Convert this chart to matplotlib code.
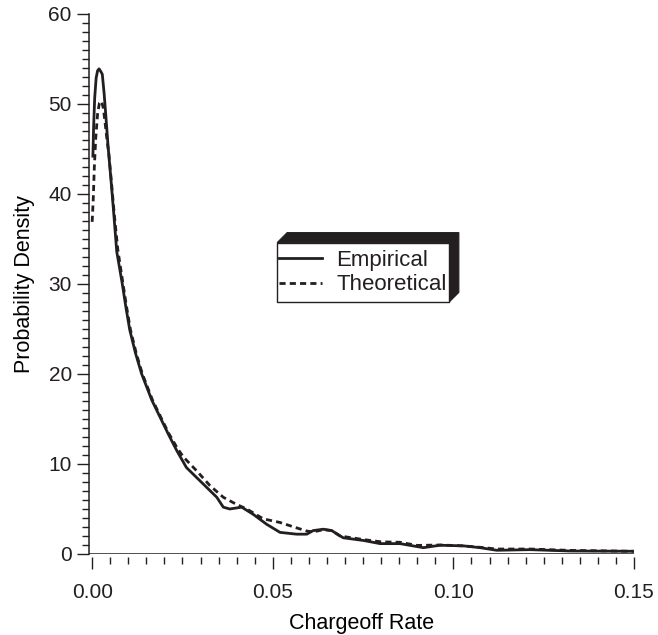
import numpy as np
from matplotlib import pyplot as plt
from matplotlib.patches import Polygon, Rectangle
from matplotlib.ticker import MultipleLocator, FormatStrFormatter

INK = '#231f20'

# Empirical density (solid).
emp_x = [0.0002, 0.0004, 0.0007, 0.0011, 0.0015, 0.0019, 0.0024, 0.0028,
         0.0033, 0.0038, 0.0044, 0.0052, 0.0059, 0.0068, 0.0083, 0.0093,
         0.0104, 0.0120, 0.0137, 0.0165, 0.0188, 0.0211, 0.0234, 0.0261,
         0.0289, 0.0317, 0.0345, 0.0363, 0.0381, 0.0414, 0.0446, 0.0483,
         0.0520, 0.0566, 0.0594, 0.0612, 0.0640, 0.0663, 0.0695, 0.0751,
         0.0797, 0.0852, 0.0917, 0.0963, 0.1028, 0.1074, 0.1120, 0.1212,
         0.1323, 0.1500]
emp_y = [44.2, 47.5, 50.7, 52.9, 53.7, 53.9, 53.6, 53.3,
         51.2, 48.6, 45.3, 41.6, 38.2, 33.6, 30.1, 27.5,
         24.9, 22.3, 20.0, 17.1, 15.2, 13.3, 11.5, 9.6,
         8.5, 7.4, 6.3, 5.2, 5.0, 5.2, 4.4, 3.3,
         2.4, 2.2, 2.2, 2.6, 2.75, 2.6, 1.8, 1.5,
         1.15, 1.15, 0.7, 0.97, 0.9, 0.7, 0.41, 0.48,
         0.33, 0.3]

# Theoretical density (dashed).
theo_x = [0.0000, 0.0003, 0.0006, 0.0010, 0.0015, 0.0020, 0.0026, 0.0031,
          0.0036, 0.0041, 0.0046, 0.0054, 0.0061, 0.0071, 0.0085, 0.0095,
          0.0106, 0.0122, 0.0139, 0.0167, 0.0190, 0.0212, 0.0235, 0.0252,
          0.0289, 0.0326, 0.0363, 0.0400, 0.0428, 0.0457, 0.0474, 0.0520,
          0.0566, 0.0594, 0.0612, 0.0640, 0.0663, 0.0686, 0.0751, 0.0800,
          0.0852, 0.0900, 0.0963, 0.1028, 0.1080, 0.1120, 0.1212, 0.1323,
          0.1500]
theo_y = [36.9, 39.5, 43.0, 46.3, 48.9, 50.1, 50.3, 49.5,
          47.8, 46.0, 44.5, 41.0, 37.8, 33.8, 30.1, 27.5,
          24.9, 22.3, 20.0, 17.1, 15.2, 13.4, 11.8, 10.8,
          9.25, 7.6, 6.3, 5.5, 5.0, 4.3, 3.9, 3.5,
          2.9, 2.55, 2.45, 2.7, 2.6, 2.0, 1.6, 1.35,
          1.3, 0.95, 1.0, 0.9, 0.72, 0.55, 0.55, 0.4,
          0.3]

plt.rcParams['font.family'] = ['Liberation Sans', 'DejaVu Sans']
plt.rcParams['text.color'] = INK
plt.rcParams['xtick.color'] = INK
plt.rcParams['ytick.color'] = INK

fig = plt.figure(figsize=(6.58, 6.35), dpi=100)
ax = fig.add_axes([0.1357, 0.1276, 0.9635 - 0.1357, 0.978 - 0.1276])

ax.plot(emp_x, emp_y, color=INK, lw=2.0, label='Empirical',
        solid_joinstyle='round')
ax.plot(theo_x, theo_y, color=INK, lw=2.0, linestyle=(0, (2.2, 1.5)),
        label='Theoretical')
ax.axhline(0, color=INK, lw=1.1)

ax.set_xlim(-0.0008, 0.15)
ax.set_ylim(0, 60)
ax.xaxis.set_major_locator(MultipleLocator(0.05))
ax.xaxis.set_minor_locator(MultipleLocator(0.005))
ax.xaxis.set_major_formatter(FormatStrFormatter('%.2f'))
ax.yaxis.set_major_locator(MultipleLocator(10))
ax.yaxis.set_minor_locator(MultipleLocator(1))

for side in ('top', 'right'):
    ax.spines[side].set_visible(False)
ax.spines['left'].set_color(INK)
ax.spines['left'].set_linewidth(1.1)
# ticks hang a little below the baseline
ax.spines['bottom'].set_position(('outward', 2))
ax.spines['bottom'].set_visible(False)

ax.tick_params(which='major', length=8.6, width=1.0, labelsize=15, pad=4)
ax.tick_params(which='minor', length=5, width=1.0)
ax.tick_params(axis='x', pad=10)

ax.set_xlabel('Chargeoff Rate', fontsize=15.5, labelpad=8)
ax.set_ylabel('Probability Density', fontsize=15.5, labelpad=10)

leg = ax.legend(loc='center',
                bbox_to_anchor=((279 + 447) / 2 / 658, 1 - (243 + 302) / 2 / 635),
                bbox_transform=fig.transFigure, fontsize=16, frameon=False,
                borderpad=0, borderaxespad=0, handlelength=1.95,
                handletextpad=0.63, labelspacing=0.17)
leg.set_zorder(6)

# boxed legend with a black extrusion on the top and right
fig.canvas.draw()
bb = leg.get_window_extent()
px, py = 2, 7
x0, y0, x1, y1 = bb.x0 - px, bb.y0 - py, bb.x1 + px, bb.y1 + py
d = 10
box = Rectangle((x0, y0), x1 - x0, y1 - y0, facecolor='white', edgecolor=INK,
                lw=1.0, transform=None, clip_on=False, zorder=5)
shade = Polygon([(x0, y1), (x0 + d, y1 + d), (x1 + d, y1 + d),
                 (x1 + d, y0 + d), (x1, y0), (x1, y1)],
                closed=True, facecolor=INK, edgecolor=INK, lw=0.8,
                transform=None, clip_on=False, zorder=5)
ax.add_artist(shade)
ax.add_artist(box)

fig.savefig('out.png', dpi=100)
